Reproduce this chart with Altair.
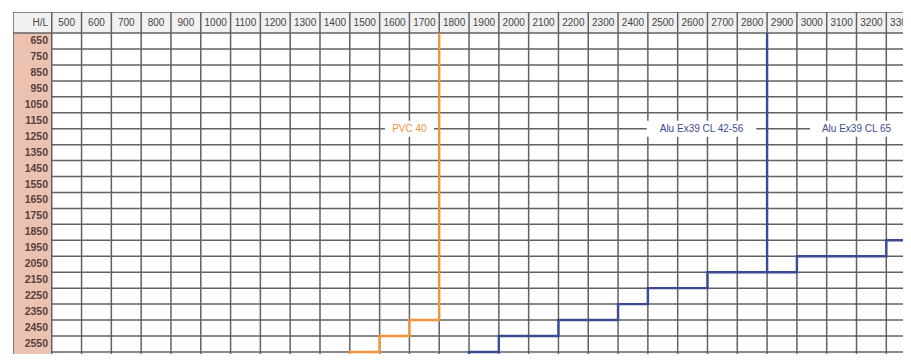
import altair as alt
import pandas as pd

# ---- data ----
col_widths = [500, 600, 700, 800, 900, 1000, 1100, 1200, 1300, 1400, 1500, 1600,
              1700, 1800, 1900, 2000, 2100, 2200, 2300, 2400, 2500, 2600, 2700,
              2800, 2900, 3000, 3100, 3200, 3300]
row_heights = [650, 750, 850, 950, 1050, 1150, 1250, 1350, 1450, 1550, 1650,
               1750, 1850, 1950, 2050, 2150, 2250, 2350, 2450, 2550, 2650]

# PVC 40 limit (step corners, width / height in mm)
pvc_w = [1450, 1550, 1650, 1750, 1750]
pvc_h = [2750, 2600, 2500, 2400, 600]

# Alu Ex39 staircase limit
alu_w = [1850, 1950, 2150, 2350, 2450, 2650, 2950, 3250, 3400]
alu_h = [2750, 2600, 2500, 2400, 2300, 2200, 2100, 2000, 1900]

# Alu Ex39 CL 42-56 max width
cl42_w = [2850, 2850]
cl42_h = [600, 2100]

label_text = ["PVC 40", "Alu Ex39 CL 42-56", "Alu Ex39 CL 65"]
label_series = ["PVC", "ALU", "ALU"]
label_w = [1650, 2630, 3150]
label_h = [1200, 1200, 1200]

# ---- layout ----
PW, PH = 890, 342
XD = [320, 3306]
YD = [468, 2613]
px_x = PW / (XD[1] - XD[0])
px_y = PH / (YD[1] - YD[0])
FONT = "Liberation Sans"
GRID = "#626262"
ORANGE = "#f2943a"
BLUE = "#3b4b93"

xs = alt.Scale(domain=XD, nice=False, zero=False)
ys = alt.Scale(domain=YD, reverse=True, nice=False, zero=False)


def X(f):
    return alt.X(f, type="quantitative", scale=xs, axis=None)


def Y(f):
    return alt.Y(f, type="quantitative", scale=ys, axis=None)


head_top = YD[0]
head_bot = row_heights[0] - 50
col_left = XD[0]
col_right = col_widths[0] - 50
head_mid_px = (head_bot - head_top) * px_y / 2
EXT = 400  # extension beyond the visible domain (clipped)

head_bg = pd.DataFrame({"x0": [col_left], "x1": [XD[1] + EXT],
                        "y0": [head_top], "y1": [head_bot]})
head_layer = alt.Chart(head_bg).mark_rect(color="#f1f1f1", clip=True).encode(
    x=X("x0"), x2="x1", y=Y("y0"), y2="y1")

rowhead_bg = pd.DataFrame({"x0": [col_left], "x1": [col_right],
                           "y0": [head_bot], "y1": [YD[1] + EXT]})
rowbg_layer = alt.Chart(rowhead_bg).mark_rect(color="#ebc2b2", clip=True).encode(
    x=X("x0"), x2="x1", y=Y("y0"), y2="y1")

vb = [w - 50 for w in col_widths] + [col_widths[-1] + 50, col_left]
vrules = pd.DataFrame({"x": vb, "y0": head_top, "y1": YD[1] + EXT})
v_layer = alt.Chart(vrules).mark_rule(color=GRID, strokeWidth=1.5, clip=True).encode(
    x=X("x"), y=Y("y0"), y2="y1")

hb = [h - 50 for h in row_heights] + [row_heights[-1] + 50]
hrules = pd.DataFrame({"y": hb + [head_top],
                       "x0": [col_right] * len(hb) + [col_left],
                       "x1": XD[1] + EXT})
hrules.loc[0, "x0"] = col_left
h_layer = alt.Chart(hrules).mark_rule(color=GRID, strokeWidth=1.5, clip=True).encode(
    y=Y("y"), x=X("x0"), x2="x1")

# label boxes (white) behind annotation text
box_px = [len(t) * 5.5 + 16 for t in label_text]
boxes = pd.DataFrame({
    "x0": [w - b / 2 / px_x for w, b in zip(label_w, box_px)],
    "x1": [w + b / 2 / px_x for w, b in zip(label_w, box_px)],
    "y0": [h - 50 for h in label_h],
    "y1": [h + 50 for h in label_h],
})
box_layer = alt.Chart(boxes).mark_rect(color="white", clip=True).encode(
    x=X("x0"), x2="x1", y=Y("y0"), y2="y1")


def step_layer(ws, hs, color):
    df = pd.DataFrame({"i": list(range(len(ws))), "w": ws, "h": hs})
    return alt.Chart(df).mark_line(interpolate="step-before", strokeWidth=2.4,
                                   color=color, clip=True).encode(
        x=X("w"), y=Y("h"), order="i:Q")


pvc_layer = step_layer(pvc_w, pvc_h, ORANGE)
alu_layer = step_layer(alu_w, alu_h, BLUE)
cl42_layer = step_layer(cl42_w, cl42_h, BLUE)

colhead = pd.DataFrame({"w": col_widths, "t": [str(c) for c in col_widths]})
colhead_layer = alt.Chart(colhead).mark_text(
    font=FONT, fontSize=10, color="#444444", align="center", baseline="middle").encode(
    x=X("w"), y=alt.value(head_mid_px), text="t:N")

rowhead = pd.DataFrame({"h": row_heights, "t": [str(r) for r in row_heights]})
rowhead_layer = alt.Chart(rowhead).mark_text(
    font=FONT, fontSize=10.5, fontWeight="bold", color="#5a403a",
    align="right", baseline="middle").encode(
    x=alt.value(35), y=Y("h"), text="t:N")

corner = pd.DataFrame({"t": ["H/L"]})
corner_layer = alt.Chart(corner).mark_text(
    font=FONT, fontSize=10, color="#444444", align="right", baseline="middle").encode(
    x=alt.value(35), y=alt.value(head_mid_px), text="t:N")

labels = pd.DataFrame({"t": label_text, "series": label_series,
                       "w": label_w, "h": label_h})
pvc_lab = alt.Chart(labels[labels.series == "PVC"]).mark_text(
    font=FONT, fontSize=10, align="center", baseline="middle", color=ORANGE).encode(
    x=X("w"), y=Y("h"), text="t:N")
alu_lab = alt.Chart(labels[labels.series == "ALU"]).mark_text(
    font=FONT, fontSize=10, align="center", baseline="middle", color=BLUE).encode(
    x=X("w"), y=Y("h"), text="t:N")

chart = alt.layer(
    head_layer, rowbg_layer, v_layer, h_layer, box_layer,
    pvc_layer, alu_layer, cl42_layer,
    colhead_layer, rowhead_layer, corner_layer, pvc_lab, alu_lab,
).properties(
    width=PW, height=PH,
    padding={"left": 5, "top": 4, "right": 0, "bottom": 0},
    autosize=alt.AutoSizeParams(type="none"),
    background="white",
).configure_view(stroke=None)

chart.save("out.html", embed_options={"renderer": "svg", "actions": False})
